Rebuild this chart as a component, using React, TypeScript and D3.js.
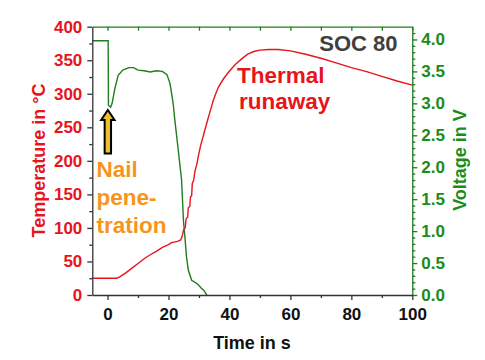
import React, { useEffect, useRef } from 'react';
import * as d3 from 'd3';

const tempTime = [-5, 3, 4, 6, 8, 10, 12, 14, 16, 18, 20, 21, 23, 24, 24.5, 25, 25.5, 25.8, 26.3, 26.5, 27, 27.2, 27.6, 27.8, 28.3, 28.7, 29.3, 29.8, 30.5, 31.4, 32.3, 33.1, 34, 34.7, 35.5, 36.4, 38, 40, 42, 44, 46, 48, 50, 53, 56, 60, 65, 70, 75, 80, 85, 90, 95, 100];
const tempValues = [25, 25, 27, 33, 40, 47, 54, 60, 65, 71, 75, 78, 80, 82, 88, 98, 100, 114, 116, 130, 132, 146, 148, 166, 172, 185, 195, 207, 222, 237, 252, 265, 279, 290, 300, 310, 322, 334, 344, 352, 359, 363, 365, 366, 366, 364, 359, 353, 346, 339, 333, 326, 319, 313];

const voltTime = [-5, 0.2, 0.3, 1, 1.5, 2.4, 3.5, 5, 7, 8.5, 10, 12, 14, 16, 18, 19.5, 20.5, 21.2, 21.6, 22.1, 23.2, 24.3, 24.9, 25.4, 25.9, 26.5, 27.6, 29, 29.8, 30.9, 31.5, 32.6];
const voltValues = [3.98, 3.98, 2.97, 2.94, 3.0, 3.23, 3.44, 3.52, 3.56, 3.56, 3.52, 3.51, 3.49, 3.51, 3.5, 3.45, 3.31, 3.1, 2.97, 2.73, 2.27, 1.8, 1.17, 0.9, 0.6, 0.39, 0.23, 0.19, 0.16, 0.1, 0.08, 0.0];

const timeTicks = [0, 20, 40, 60, 80, 100];
const tempTicks = [0, 50, 100, 150, 200, 250, 300, 350, 400];
const voltTicks = [0, 0.5, 1, 1.5, 2, 2.5, 3, 3.5, 4];

const RED = '#e8141c';
const GREEN_TEXT = '#1a8c1a';
const GREEN_LINE = '#1f7d1f';
const ORANGE = '#f7941d';
const FONT = '"Liberation Sans", Arial, sans-serif';

const App = () => {
  const svgRef = useRef(null);

  useEffect(() => {
    const svg = d3.select(svgRef.current);
    svg.selectAll('*').remove();

    const left = 92.3, right = 412.3, top = 26.7, bottom = 295;
    const x = d3.scaleLinear().domain([-5, 100]).range([left, right]);
    const yT = d3.scaleLinear().domain([0, 400]).range([bottom, top]);
    const yV = d3.scaleLinear().domain([0, 4.2]).range([bottom, top]);

    const tempData = tempTime.map((t, i) => [t, tempValues[i]]);
    const voltData = voltTime.map((t, i) => [t, voltValues[i]]);

    svg.append('path')
      .attr('d', d3.line().x(d => x(d[0])).y(d => yV(d[1]))(voltData))
      .attr('fill', 'none')
      .attr('stroke', GREEN_LINE)
      .attr('stroke-width', 1.4);

    svg.append('path')
      .attr('d', d3.line().x(d => x(d[0])).y(d => yT(d[1]))(tempData))
      .attr('fill', 'none')
      .attr('stroke', RED)
      .attr('stroke-width', 1.4);

    const styleAxis = (g, color, textColor) => {
      g.selectAll('path, line').attr('stroke', color).attr('stroke-width', 1.3);
      g.selectAll('text')
        .attr('fill', textColor)
        .style('font-family', FONT)
        .style('font-weight', 'bold')
        .style('font-size', '17px');
    };

    // minor ticks first, then major axes
    svg.append('g').attr('transform', `translate(${left},0)`)
      .call(d3.axisLeft(yT).tickValues(d3.range(25, 400, 50)).tickSize(3).tickFormat(() => '').tickSizeOuter(0))
      .call(g => { g.select('.domain').remove(); styleAxis(g, '#333', RED); });
    svg.append('g').attr('transform', `translate(${right},0)`)
      .call(d3.axisRight(yV).tickValues(d3.range(0.1, 4.2, 0.1).filter(v => Math.abs(v * 2 - Math.round(v * 2)) > 0.01)).tickSize(3).tickFormat(() => '').tickSizeOuter(0))
      .call(g => { g.select('.domain').remove(); styleAxis(g, GREEN_LINE, GREEN_TEXT); });
    svg.append('g').attr('transform', `translate(0,${bottom})`)
      .call(d3.axisBottom(x).tickValues(d3.range(10, 100, 20)).tickSize(3).tickFormat(() => '').tickSizeOuter(0))
      .call(g => { g.select('.domain').remove(); styleAxis(g, '#333', '#111'); });

    svg.append('g').attr('transform', `translate(0,${top})`)
      .call(d3.axisBottom(x).tickValues(d3.range(0, 101, 10)).tickSize(4).tickFormat(() => '').tickSizeOuter(0))
      .call(g => styleAxis(g, GREEN_LINE, GREEN_TEXT));

    svg.append('g').attr('transform', `translate(${left},0)`)
      .call(d3.axisLeft(yT).tickValues(tempTicks).tickSize(5).tickPadding(5).tickSizeOuter(0))
      .call(g => styleAxis(g, '#333', RED));

    svg.append('g').attr('transform', `translate(${right},0)`)
      .call(d3.axisRight(yV).tickValues(voltTicks).tickSize(5).tickPadding(4).tickSizeOuter(0).tickFormat(d3.format('.1f')))
      .call(g => styleAxis(g, GREEN_LINE, GREEN_TEXT));

    svg.append('g').attr('transform', `translate(0,${bottom})`)
      .call(d3.axisBottom(x).tickValues(timeTicks).tickSize(5).tickPadding(8).tickSizeOuter(0))
      .call(g => styleAxis(g, '#333', '#111'));

    const label = (txt, px, py, color, size, anchor = 'start', rotate = 0) =>
      svg.append('text')
        .attr('transform', `translate(${px},${py}) rotate(${rotate})`)
        .attr('text-anchor', anchor)
        .attr('fill', color)
        .style('font-family', FONT)
        .style('font-weight', 'bold')
        .style('font-size', `${size}px`)
        .text(txt);

    label('Time in s', 252, 349, '#111', 18, 'middle');
    label('Temperature in °C', 44.5, 160.5, RED, 18, 'middle', -90);
    label('Voltage in V', 466, 160, GREEN_TEXT, 18, 'middle', -90);
    label('SOC 80', 397.5, 50.7, '#404040', 22, 'end');
    label('Thermal', 237, 83, RED, 22.5);
    label('runaway', 239, 108.5, RED, 22.5);
    label('Nail', 96.5, 177, ORANGE, 22.5);
    label('pene-', 96.5, 205, ORANGE, 22.5);
    label('tration', 96.5, 233, ORANGE, 22.5);

    // nail penetration arrow
    const ax = x(0) + 0.3;
    const arrow = d3.path();
    arrow.moveTo(ax, 110);
    arrow.lineTo(ax + 6.7, 120);
    arrow.lineTo(ax + 3.2, 120);
    arrow.lineTo(ax + 3.2, 153.5);
    arrow.lineTo(ax - 3.2, 153.5);
    arrow.lineTo(ax - 3.2, 120);
    arrow.lineTo(ax - 6.7, 120);
    arrow.closePath();
    svg.append('path')
      .attr('d', arrow.toString())
      .attr('fill', '#ecc02e')
      .attr('stroke', '#000')
      .attr('stroke-width', 2)
      .attr('stroke-linejoin', 'miter');
  }, []);

  return (
    <div style={{ position: 'absolute', left: 0, top: 0, background: '#fff' }}>
      <svg ref={svgRef} width={485} height={360} style={{ display: 'block' }} />
    </div>
  );
};

export default App;
